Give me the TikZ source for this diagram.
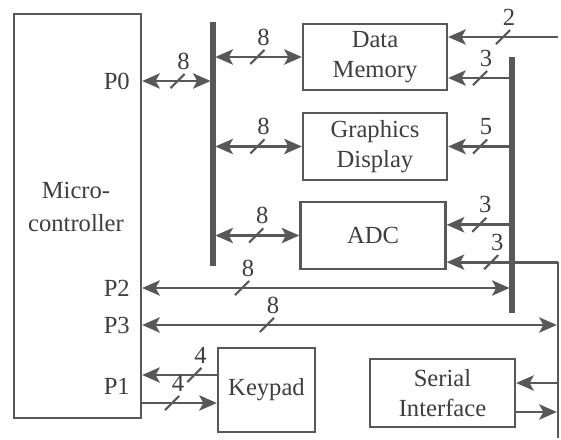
\documentclass[tikz,border=0pt]{standalone}
\usepackage{fontspec}
\setmainfont{Liberation Serif}
\usepackage{tikz}
\usetikzlibrary{arrows.meta, positioning, calc}
\definecolor{inkgray}{RGB}{88, 88, 88}
\definecolor{txtgray}{RGB}{62, 62, 62}

\begin{document}
\begin{tikzpicture}[x=0.03cm, y=-0.03cm, font=\fontsize{21}{25}\selectfont, text=txtgray,
    >={Stealth[length=15pt, width=13pt, inset=3.5pt]},
    box/.style={draw=inkgray, line width=2pt, align=center, inner sep=0pt},
    conn/.style={draw=inkgray, line width=2.3pt},
    bus/.style={draw=inkgray, line width=4.5pt},
    rim/.style={draw=inkgray, line width=2.4pt},
    tick/.style={draw=inkgray, line width=1.8pt, rotate=45, minimum width=0.6cm,
                 minimum height=0pt, inner sep=0pt},
    num/.style={inner sep=0pt, xshift=0.18cm, yshift=0.6cm},
    port/.style={anchor=east, inner sep=0pt}]
    \fill[white] (0,0) rectangle (561,438);

    % controller and ports
    \node[box, minimum width=3.81cm, minimum height=12.12cm] (mcu) at (77.5,216) {};
    \node[align=center] (mcutxt) at (76,207) {Micro-\\[3pt]controller};
    \node[port] (p0) at (130,81) {P0};
    \node[port] (p2) at (130,288) {P2};
    \node[port] (p3) at (130,325) {P3};
    \node[port] (p1) at (130,386) {P1};

    % peripherals
    \node[box, minimum width=4.32cm, minimum height=1.98cm] (dmem) at (375,57) {Data\\Memory};
    \node[box, minimum width=4.32cm, minimum height=2.01cm] (gdisp) at (375,146.5) {Graphics\\Display};
    \node[box, minimum width=4.35cm, minimum height=2.01cm] (adc) at (373,235.5) {ADC};
    \node[box, minimum width=2.91cm, minimum height=2.52cm] (keypad) at (266.5,390) {Keypad};
    \node[box, minimum width=4.35cm, minimum height=2.04cm] (serial) at (442.5,393) {Serial\\Interface};

    % buses
    \coordinate (b1t) at (213,22);
    \coordinate (b1b) at (213,266);
    \coordinate (b2t) at (512,57);
    \coordinate (b2b) at (512,313);
    \coordinate (edt) at (558,262);
    \coordinate (edb) at (558,438);
    \draw[bus] (b1t) -- (b1b);
    \draw[bus] (b2t) -- (b2b);
    \draw[rim] (edt) -- (edb);

    % data bus side
    \draw[conn, <->, shorten >=2pt] (p0 -| mcu.east) -- node[tick]{} node[num]{8} (p0 -| b1t);
    \draw[conn, <->, shorten <=2pt] (b1t |- dmem.west) -- node[tick]{} node[num]{8} (dmem.west);
    \draw[conn, <->, shorten <=2pt] (b1t |- gdisp.west) -- node[tick]{} node[num]{8} (gdisp.west);
    \draw[conn, <->, shorten <=2pt] (b1t |- adc.west) -- node[tick]{} node[num]{8} (adc.west);

    % control lines
    \coordinate (dm2) at ([yshift=0.6cm]dmem.east);
    \coordinate (dm3) at ([yshift=-0.63cm]dmem.east);
    \coordinate (ad1) at ([yshift=0.32cm]adc.east);
    \coordinate (ad2) at ([yshift=-0.8cm]adc.east);
    \draw[conn, ->] (dm2 -| edt) -- node[tick]{} node[num]{2} (dm2);
    \draw[conn, ->, shorten <=2pt] (dm3 -| b2t) -- node[tick]{} node[num]{3} (dm3);
    \draw[conn, ->, shorten <=2pt] (gdisp.east -| b2t) -- node[tick]{} node[num]{5} (gdisp.east);
    \draw[conn, ->, shorten <=2pt] (ad1 -| b2t) -- node[tick]{} node[num]{3} (ad1);
    \draw[conn, ->] (ad2 -| edt) -- node[tick, pos=.6]{} node[num, pos=.6]{3} (ad2);
    \draw[conn, <->, shorten >=2pt] (p2 -| mcu.east) -- node[tick, pos=.27]{} node[num, pos=.27]{8} (p2 -| b2t);
    \draw[conn, <->, shorten >=1pt] (p3 -| mcu.east) -- node[tick, pos=.3]{} node[num, pos=.3]{8} (p3 -| edt);

    % keypad and serial
    \coordinate (kp1) at ([yshift=0.45cm]keypad.west);
    \coordinate (kp2) at ([yshift=-0.39cm]keypad.west);
    \coordinate (si1) at ([yshift=0.3cm]serial.east);
    \coordinate (si2) at ([yshift=-0.57cm]serial.east);
    \draw[conn, ->] (kp1) -- node[tick, pos=.3]{} node[num, pos=.3]{4} (kp1 -| mcu.east);
    \draw[conn, ->] (kp2 -| mcu.east) -- node[tick, pos=.4]{} node[num, pos=.4]{4} (kp2);
    \draw[conn, ->, shorten <=1pt] (si1 -| edt) -- (si1);
    \draw[conn, ->, shorten >=1pt] (si2) -- (si2 -| edt);
\end{tikzpicture}
\end{document}
